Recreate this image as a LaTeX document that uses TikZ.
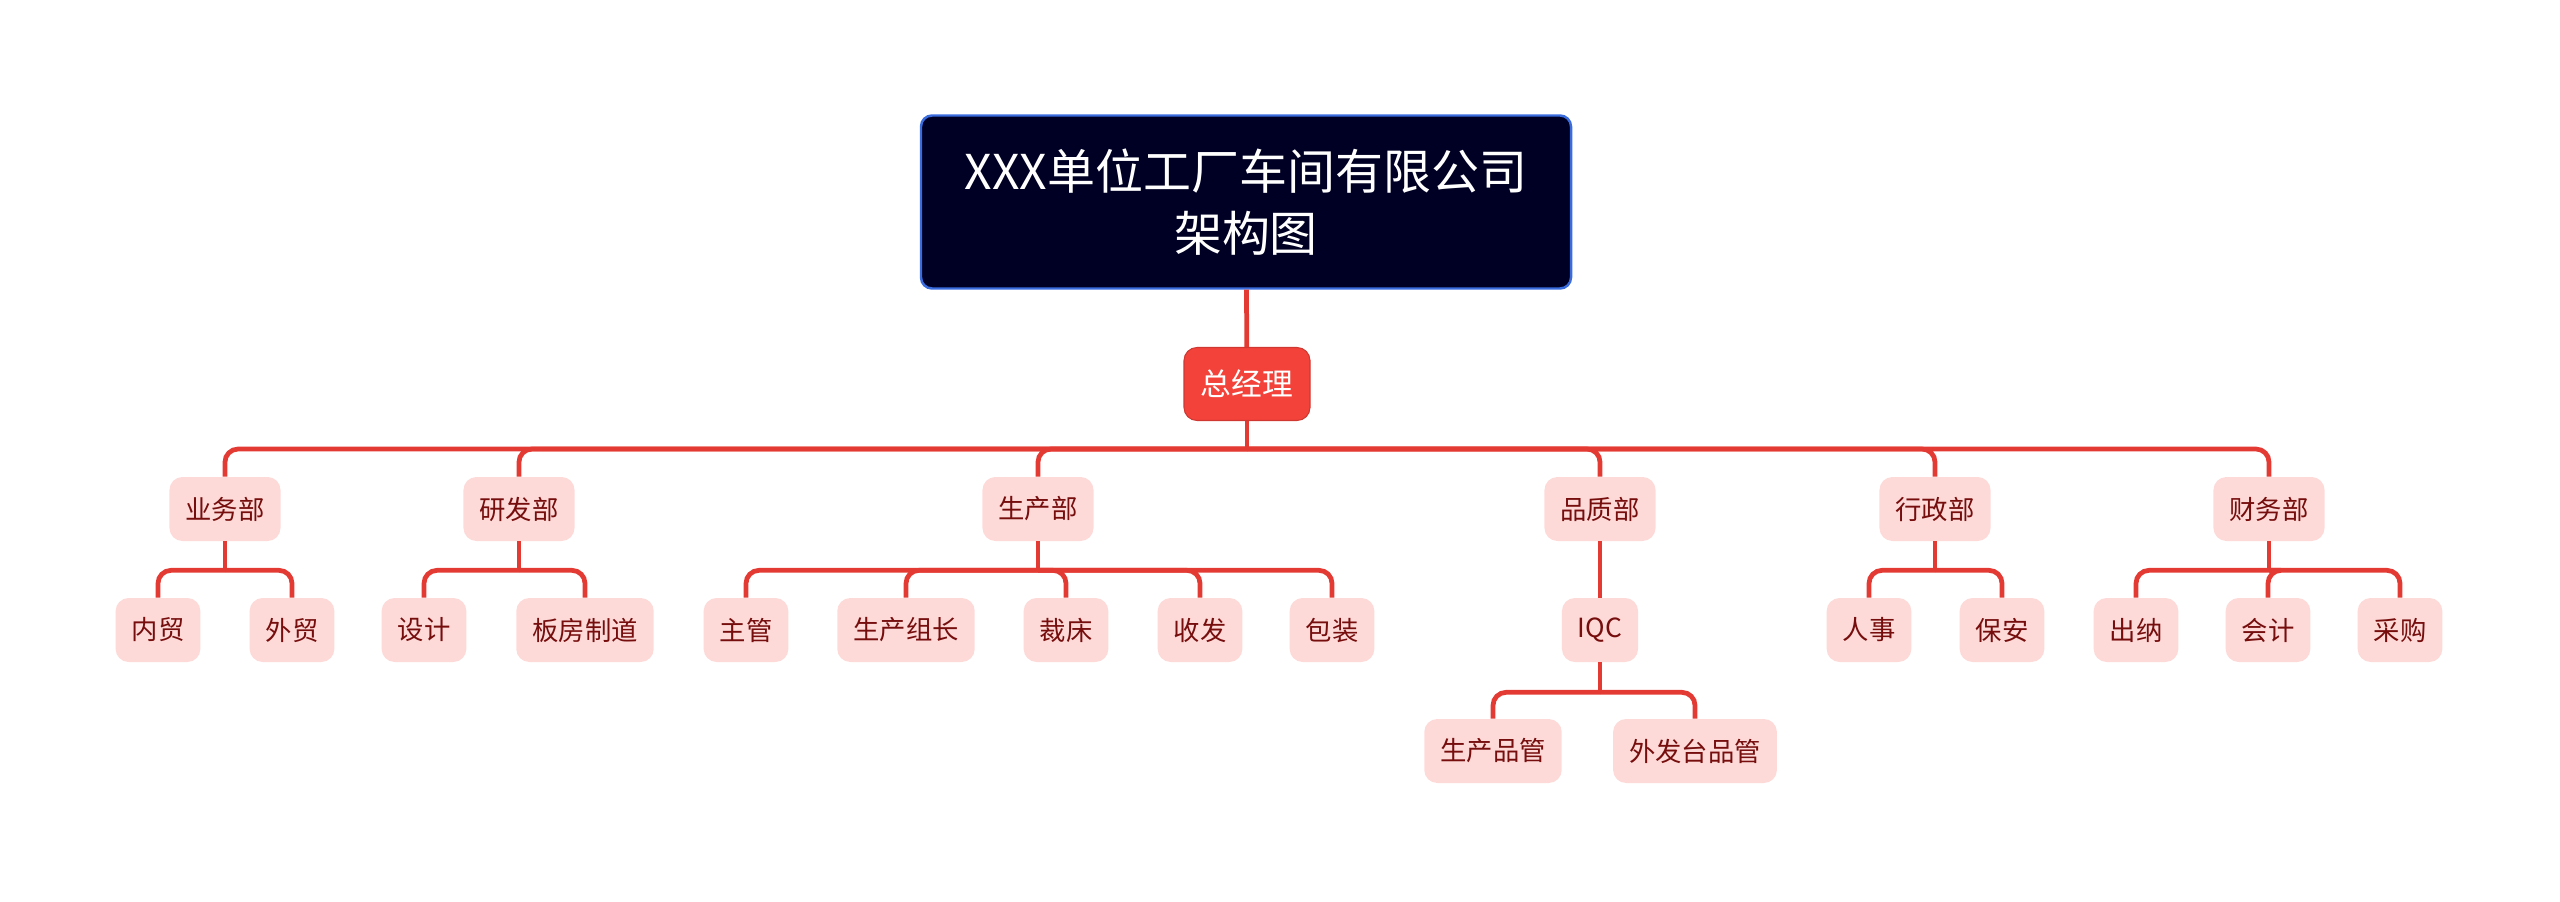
\documentclass[tikz,border=0pt]{standalone}
\usepackage{fontspec}
\setmainfont{Noto Sans CJK SC}
\usepackage{tikz}
\usetikzlibrary{positioning}

\definecolor{rootfill}{RGB}{0,0,36}
\definecolor{rootline}{RGB}{58,108,222}
\definecolor{gmfill}{RGB}{243,66,58}
\definecolor{linkred}{RGB}{228,58,52}
\definecolor{leaffill}{RGB}{253,218,216}
\definecolor{leaftext}{RGB}{118,14,14}

\begin{document}
\begin{tikzpicture}[
  x=0.2mm, y=-0.2mm,
  rootv/.style={rectangle, rounded corners=0.22cm, draw=rootline, line width=1.4pt, fill=rootfill,
    text=white, align=center, minimum width=13cm, minimum height=3.46cm,
    font=\fontsize{27.3}{35}\selectfont},
  gmv/.style={rectangle, rounded corners=0.26cm, draw=gmfill!85!black, line width=0.6pt, fill=gmfill,
    text=white, minimum width=2.52cm, minimum height=1.46cm, font=\fontsize{17.5}{20}\selectfont},
  leafv/.style={rectangle, rounded corners=0.26cm, fill=leaffill, text=leaftext,
    inner xsep=0.32cm, minimum height=1.28cm, font=\fontsize{15}{18}\selectfont},
  linkedge/.style={draw=linkred, line width=2.7pt, rounded corners=0.26cm}
]
\useasboundingbox (0,0) rectangle (2560,902);

\node[rootv] (nroot) at (1246,202) {XXX单位工厂车间有限公司\\架构图};
\node[gmv] (ngm) at (1247,384) {总经理};

% departments
\node[leafv] (nyw) at (225,509) {业务部};
\node[leafv] (nyf) at (519,509) {研发部};
\node[leafv] (nsc) at (1038,509) {生产部};
\node[leafv] (npz) at (1600,509) {品质部};
\node[leafv] (nxz) at (1935,509) {行政部};
\node[leafv] (ncw) at (2269,509) {财务部};

% sections
\node[leafv] (nnm) at (158,630) {内贸};
\node[leafv] (nwm) at (292,630) {外贸};
\node[leafv] (nsj) at (424,630) {设计};
\node[leafv] (nbf) at (585,630) {板房制道};
\node[leafv] (nzg) at (746,630) {主管};
\node[leafv] (nzz) at (906,630) {生产组长};
\node[leafv] (ncc) at (1066,630) {裁床};
\node[leafv] (nsf) at (1200,630) {收发};
\node[leafv] (nbz) at (1332,630) {包装};
\node[leafv] (niqc) at (1600,630) {IQC};
\node[leafv] (nrs) at (1869,630) {人事};
\node[leafv] (nba) at (2002,630) {保安};
\node[leafv] (ncn) at (2136,630) {出纳};
\node[leafv] (nkj) at (2268,630) {会计};
\node[leafv] (ncg) at (2400,630) {采购};

\node[leafv] (nscpg) at (1493,751) {生产品管};
\node[leafv] (nwfpg) at (1695,751) {外发台品管};

\draw[linkedge] (nroot) -- (ngm);

\draw[linkedge] (ngm.south) -- ++(0,28) coordinate (bgm);
\draw[linkedge] (bgm) -| (nyw.north);
\draw[linkedge] (bgm) -| (nyf.north);
\draw[linkedge] (bgm) -| (nsc.north);
\draw[linkedge] (bgm) -| (npz.north);
\draw[linkedge] (bgm) -| (nxz.north);
\draw[linkedge] (bgm) -| (ncw.north);

\draw[linkedge] (nyw.south) -- ++(0,29) coordinate (byw);
\draw[linkedge] (byw) -| (nnm.north);
\draw[linkedge] (byw) -| (nwm.north);

\draw[linkedge] (nyf.south) -- ++(0,29) coordinate (byf);
\draw[linkedge] (byf) -| (nsj.north);
\draw[linkedge] (byf) -| (nbf.north);

\draw[linkedge] (nsc.south) -- ++(0,29) coordinate (bsc);
\draw[linkedge] (bsc) -| (nzg.north);
\draw[linkedge] (bsc) -| (nzz.north);
\draw[linkedge] (bsc) -| (ncc.north);
\draw[linkedge] (bsc) -| (nsf.north);
\draw[linkedge] (bsc) -| (nbz.north);

\draw[linkedge] (npz) -- (niqc);

\draw[linkedge] (nxz.south) -- ++(0,29) coordinate (bxz);
\draw[linkedge] (bxz) -| (nrs.north);
\draw[linkedge] (bxz) -| (nba.north);

\draw[linkedge] (ncw.south) -- ++(0,29) coordinate (bcw);
\draw[linkedge] (bcw) -| (ncn.north);
\draw[linkedge] (bcw) -| (nkj.north);
\draw[linkedge] (bcw) -| (ncg.north);

\draw[linkedge] (niqc.south) -- ++(0,30) coordinate (biqc);
\draw[linkedge] (biqc) -| (nscpg.north);
\draw[linkedge] (biqc) -| (nwfpg.north);

\end{tikzpicture}
\end{document}
